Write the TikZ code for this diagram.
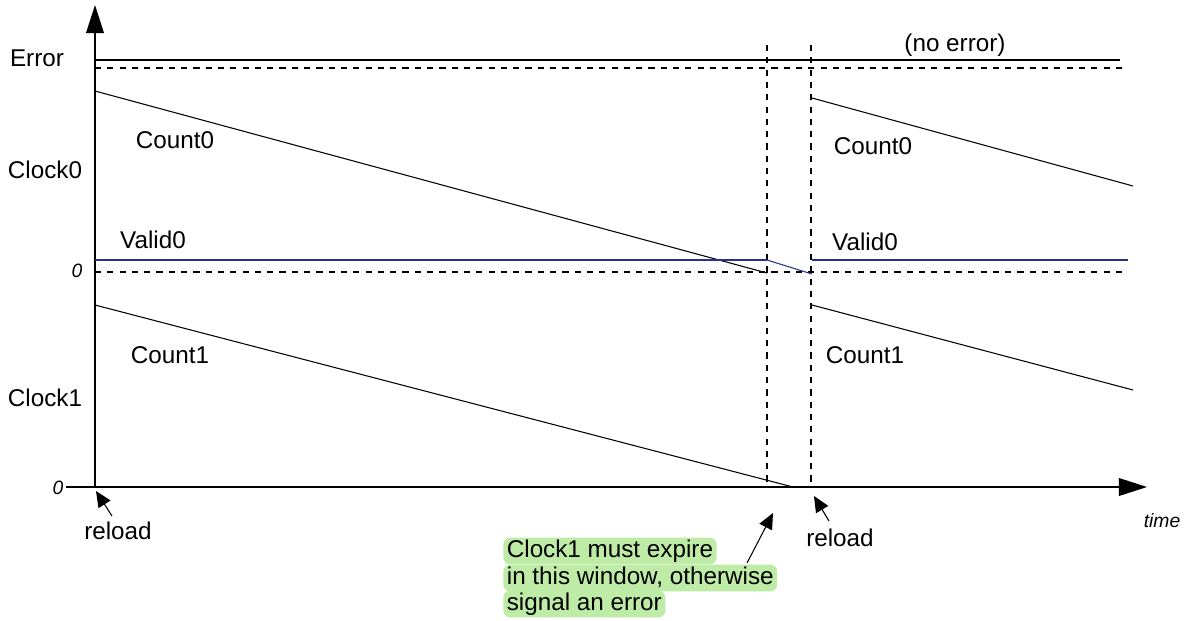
\documentclass[tikz,border=0pt]{standalone}
\usepackage{fontspec}
\setmainfont{Liberation Sans}
\usetikzlibrary{arrows.meta}

\definecolor{validblue}{RGB}{40,50,140}
\definecolor{notegreen}{RGB}{190,235,165}

\begin{document}
\begin{tikzpicture}[x=0.02cm,y=-0.02cm,
    axis/.style={line width=1.2pt,-{Triangle[length=16pt,width=10pt]}},
    level/.style={line width=1.1pt},
    trace/.style={line width=0.6pt},
    guide/.style={line width=0.9pt,dash pattern=on 3.5pt off 3.5pt},
    sigtext/.style={font=\fontsize{13.8}{16}\selectfont,inner sep=0pt},
    zero/.style={font=\itshape\fontsize{11}{13}\selectfont,inner sep=0pt},
    pointer/.style={line width=0.6pt,-{Triangle[length=9pt,width=8pt]}},
    note/.style={sigtext,anchor=west,fill=notegreen,rounded corners=4pt,
      inner xsep=2pt,inner ysep=0pt,text height=11.5pt,text depth=3.8pt}]
\useasboundingbox (0,0) rectangle (1187,620);

% axes
\coordinate (o) at (95,487);
\coordinate (ytop) at (95,5);
\coordinate (xstart) at (66,487);
\coordinate (xend) at (1147,487);
\draw[axis] (o) -- (ytop);
\draw[axis] (xstart) -- (xend);

% window
\coordinate (w1) at (767,45);
\coordinate (w1b) at (767,487);
\coordinate (w2) at (811,45);
\coordinate (w2b) at (811,487);
\draw[guide] (w1) -- (w1b);
\draw[guide] (w2) -- (w2b);

% error level
\coordinate (e1) at (95,60);
\coordinate (e2) at (1120,60);
\coordinate (ed1) at (95,68);
\coordinate (ed2) at (1128,68);
\draw[level] (e1) -- (e2);
\draw[guide] (ed1) -- (ed2);

% clock0
\coordinate (z1) at (95,272);
\coordinate (z2) at (1128,272);
\draw[guide] (z1) -- (z2);
\coordinate (c0a) at (95,91);
\coordinate (c0b) at (767,273);
\coordinate (c0c) at (812,98);
\coordinate (c0d) at (1133,186);
\draw[trace] (c0a) -- (c0b);
\draw[trace] (c0c) -- (c0d);
\coordinate (v0a) at (95,260);
\coordinate (v0b) at (767,260);
\coordinate (v0c) at (812,274);
\coordinate (v0d) at (812,260);
\coordinate (v0e) at (1128,260);
\draw[trace,validblue,line width=1pt] (v0a) -- (v0b);
\draw[trace,validblue] (v0b) -- (v0c);
\draw[trace,validblue,line width=1pt] (v0d) -- (v0e);

% clock1
\coordinate (c1a) at (95,305);
\coordinate (c1b) at (793,487);
\coordinate (c1c) at (812,305);
\coordinate (c1d) at (1133,390);
\draw[trace] (c1a) -- (c1b);
\draw[trace] (c1c) -- (c1d);

% labels
\node[sigtext] (err) at (37,58) {Error};
\node[sigtext] (noerr) at (955,45) {(no error)};
\node[sigtext] (clk0) at (45,170) {Clock0};
\node[sigtext] (clk1) at (45,398) {Clock1};
\node[zero] (zero0) at (77,271) {0};
\node[zero] (zero1) at (58,488) {0};
\node[sigtext] (cnt0l) at (175,140) {Count0};
\node[sigtext] (cnt0r) at (873,146) {Count0};
\node[sigtext] (val0l) at (153,240) {Valid0};
\node[sigtext] (val0r) at (865,242) {Valid0};
\node[sigtext] (cnt1l) at (170,355) {Count1};
\node[sigtext] (cnt1r) at (865,355) {Count1};
\node[zero] (time) at (1162,521) {time};

% reload marks
\node[sigtext] (rl1) at (118,531) {reload};
\node[sigtext] (rl2) at (840,538) {reload};
\coordinate (rl1tip) at (96,491);
\coordinate (rl1tail) at (112,516);
\coordinate (rl2tip) at (814,496);
\coordinate (rl2tail) at (829,521);
\draw[pointer] (rl1tail) -- (rl1tip);
\draw[pointer] (rl2tail) -- (rl2tip);

% note
\node[note] (n1) at (503,551) {Clock1 must expire};
\node[note] (n2) at (503,578) {in this window, otherwise};
\node[note] (n3) at (503,604) {signal an error};
\coordinate (wintip) at (773,513);
\coordinate (wintail) at (747,563);
\draw[pointer] (wintail) -- (wintip);
\end{tikzpicture}
\end{document}
